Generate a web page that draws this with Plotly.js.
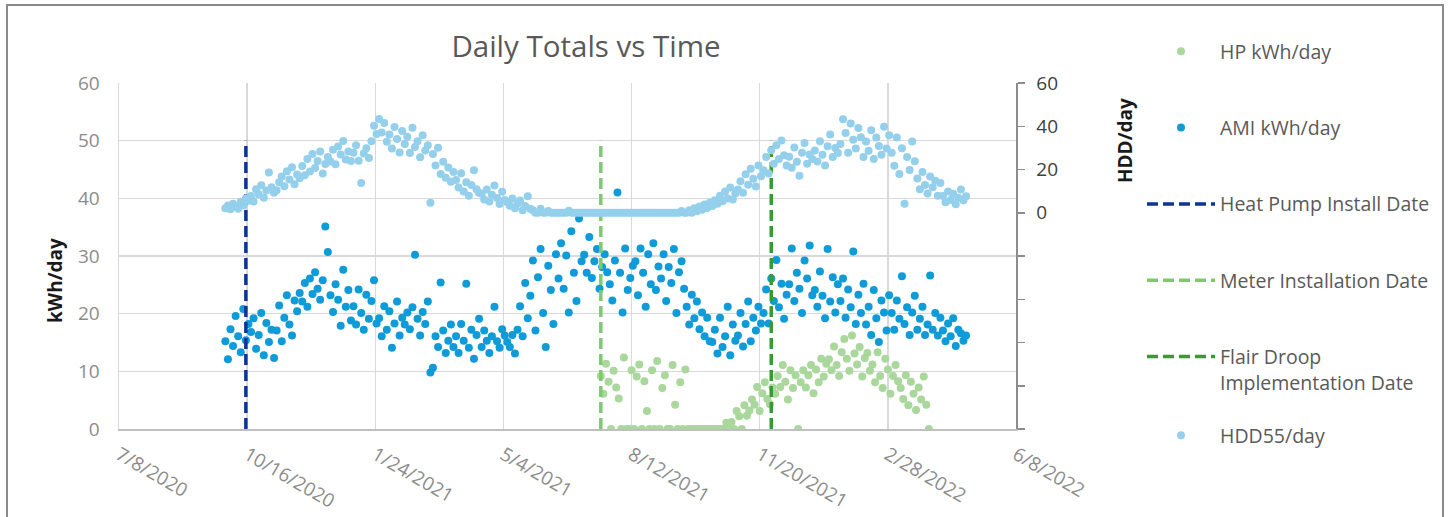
<!DOCTYPE html>
<html><head><meta charset="utf-8">
<script src="https://cdn.plot.ly/plotly-3.0.1.min.js"></script>
<style>
html,body{margin:0;padding:0;background:#fff;overflow:hidden}
#chart{width:1448px;height:517px;position:absolute;left:0;top:0}
#frame{position:absolute;left:6px;top:4px;width:1438px;height:540px;border:2px solid #8a8a8a;box-sizing:border-box;pointer-events:none}
</style></head><body>
<div id="chart"></div><div id="frame"></div>
<script>
// ---- data ----
const seriesStart = '2020-09-29';   // first daily sample (every 2nd day shown)
const hpStart = '2021-07-19';       // HP meter data start
const stepDays = 2;

const hddValues = [
 2.1,3.4,1.6,4.2,2.8,1.9,5.1,3.3,6.7,5.6,
 7.8,5.2,10.9,8.6,12.7,6.9,10.3,18.6,11.8,9.2,
 10.4,14.1,16.8,12.3,19.2,15.4,21.0,13.2,17.7,15.9,
 21.6,17.3,24.8,19.1,27.2,20.7,23.9,28.3,18.2,22.6,
 25.8,23.7,29.1,22.4,30.6,26.9,33.2,24.6,28.3,23.9,
 27.7,31.2,24.1,13.8,27.4,29.8,25.3,33.1,40.2,36.4,
 43.3,37.1,41.5,32.8,36.2,29.7,39.6,34.1,27.9,37.8,
 31.8,35.2,27.6,39.3,30.4,33.1,25.7,35.8,28.8,31.2,
 4.6,27.2,21.8,30.1,17.9,23.6,16.2,20.9,14.3,18.8,
 15.2,11.7,18.3,9.8,14.1,7.9,12.8,19.7,10.9,9.3,
 8.8,6.1,10.7,5.2,8.3,12.6,6.8,4.1,9.7,5.9,
 4.8,3.2,6.6,2.1,4.3,5.7,1.2,3.1,7.6,1.8,
 1.1,0,0,1.8,0,0,0.8,0,0,0,
 0,0,0,0,0.9,0,0,0,0,0,
 0,0,0,0,0,0,0,0,0,0,
 0,0,0,0,0,0,0,0,0,0,
 0,0,0,0,0,0,0,0,0,0,
 0,0,0,0,0,0,0,0,0.8,0,
 0,1.2,0,2.1,0.7,2.9,1.4,3.8,2.2,4.6,
 3.1,5.8,4.2,7.9,5.3,9.8,6.6,11.7,6.1,8.9,
 10.8,14.6,9.2,17.8,12.9,20.3,15.7,12.1,21.8,16.9,
 19.7,25.8,18.1,28.9,22.7,31.2,24.8,33.4,26.6,21.9,
 25.9,20.8,30.2,23.6,17.1,27.8,32.3,22.7,26.9,24.8,
 28.8,23.7,33.1,26.8,21.9,30.7,36.2,25.8,29.9,27.6,
 31.8,43.2,36.9,27.7,41.3,33.8,29.7,39.2,34.9,25.8,
 32.9,28.7,38.1,24.8,34.8,30.9,26.8,39.8,29.7,35.8,
 27.8,21.7,34.8,17.9,29.8,4.2,25.8,19.8,32.9,23.8,
 15.8,10.9,18.8,12.8,8.9,16.8,11.8,14.8,7.9,13.8,
 7.8,4.9,9.8,5.9,8.8,3.9,6.9,10.8,5.8,7.6
];

const amiValues = [
 15.2,12.1,17.3,14.4,19.6,16.1,13.3,20.8,15.4,18.2,
 16.8,19.2,13.9,16.3,20.1,12.8,18.4,15.1,17.2,12.3,
 17.1,21.4,15.2,19.3,23.2,18.1,16.2,22.3,20.4,23.6,
 22.1,25.3,21.2,26.1,23.4,27.2,24.3,22.4,25.8,35.1,
 30.7,23.2,20.3,25.1,22.4,17.9,27.6,21.2,24.1,18.8,
 21.3,18.1,24.2,20.1,17.2,23.3,19.1,22.2,25.8,18.3,
 19.2,16.1,21.3,17.2,20.4,14.1,18.3,22.1,16.2,19.3,
 18.1,20.2,17.3,21.1,30.2,19.1,16.2,20.3,18.2,22.1,
 9.8,10.6,16.1,14.2,25.4,17.1,13.2,15.3,18.1,14.2,
 16.1,13.2,18.2,15.3,25.2,14.1,17.2,12.2,16.3,19.1,
 14.2,17.1,15.3,13.2,16.1,21.2,15.2,14.1,17.3,16.2,
 15.1,14.2,16.3,13.1,17.2,21.3,16.1,25.3,19.2,23.1,
 29.2,17.1,26.3,31.2,20.1,14.2,28.3,24.1,18.2,30.3,
 26.1,32.2,24.3,30.1,20.2,34.3,27.1,22.2,36.5,29.1,
 30.2,27.1,33.3,26.2,29.1,31.2,24.3,28.1,30.3,27.2,
 25.1,22.3,29.2,41.0,27.1,20.2,31.3,24.1,26.2,28.3,
 29.1,23.2,31.3,27.1,21.2,30.3,25.1,32.2,24.1,28.2,
 26.1,30.3,22.2,28.1,25.3,31.2,20.1,27.2,29.1,24.3,
 21.2,18.1,23.3,19.2,22.1,17.3,20.2,16.1,19.3,15.2,
 15.1,17.2,13.1,19.3,14.2,16.1,21.2,12.8,18.1,15.3,
 16.2,20.1,14.3,18.2,22.1,15.2,19.3,17.1,21.2,18.3,
 20.1,24.2,18.3,26.1,22.2,29.3,21.1,25.2,19.1,23.3,
 25.1,31.3,22.2,27.1,24.3,20.1,29.2,26.1,31.8,23.2,
 24.1,21.2,27.3,23.1,19.2,31.2,22.1,26.3,20.2,25.1,
 22.2,26.1,19.3,24.2,21.1,30.8,18.2,23.3,20.1,25.2,
 18.1,21.2,16.3,24.1,19.2,15.1,22.3,20.2,17.1,23.2,
 20.1,17.2,22.3,19.1,26.5,18.2,21.1,16.3,20.2,23.1,
 17.2,19.1,21.2,16.3,18.1,26.6,17.2,20.1,16.2,19.3,
 17.1,15.2,18.3,16.1,19.2,14.4,17.2,16.6,15.3,16.2
];

const hpValues = [
 9.2,6.1,11.3,8.2,0,10.1,7.2,5.3,
 0,12.4,0,0,10.2,
 0,9.1,11.2,0,8.3,3.1,0,10.2,0,11.8,0,7.1,9.3,0,0,11.1,4.2,0,8.1,0,10.3,0,
 0,0,0,0,0,0,0,0,0,0,0,0,0,0,1.1,
 0,1.2,0,3.1,2.2,0,4.1,2.3,
 3.2,5.1,4.2,7.3,3.1,6.2,8.1,5.2,4.3,7.2,
 6.1,9.2,7.3,11.1,8.2,5.1,10.2,7.1,9.3,0,
 8.1,10.2,7.2,9.3,11.1,6.2,10.3,8.1,12.2,9.1,11.3,
 12.1,10.2,14.3,11.1,9.2,13.3,15.6,12.2,10.1,16.2,13.1,11.2,14.2,9.1,12.3,13.2,10.1,
 11.2,8.1,13.3,9.2,7.1,12.2,10.3,6.1,9.2,11.1,8.3,
 7.1,5.2,9.3,4.1,8.2,6.1,3.3,7.2,5.1,9.1,4.2,0
];

const eventNames = ['Heat Pump Install Date', 'Meter Installation Date', 'Flair Droop<br>Implementation Date'];
const eventDates = ['2020-10-15', '2021-07-19', '2021-11-29'];
const eventLineY = [0, 50];

const xTickStart = '2020-07-08';
const xRange = ['2020-07-08', '2022-06-08'];
const y2TickVals = [-100, -80, -60, -40, -20, 0, 20, 40, 60];
const y2TickText = ['', '', '', '', '', '0', '20', '40', '60'];

// ---- helpers ----
function dateSeq(start, n, step) {
  const t0 = Date.parse(start + 'T00:00:00Z');
  const out = [];
  for (let i = 0; i < n; i++) out.push(new Date(t0 + i * step * 864e5).toISOString().slice(0, 10));
  return out;
}
const seriesDates = dateSeq(seriesStart, amiValues.length, stepDays);
const hpDates = dateSeq(hpStart, hpValues.length, stepDays);

const FONT = 'Open Sans, Noto Sans, sans-serif';
const eventColors = ['#0b3694', '#7fca6d', '#3a9a32'];
const MS = 8;

const traces = [
  {x: hpDates, y: hpValues, type: 'scatter', mode: 'markers', name: 'HP kWh/day',
   marker: {color: '#a9d79c', size: MS}, legend: 'legend', legendgroup: 'g1'},
  {x: seriesDates, y: amiValues, type: 'scatter', mode: 'markers', name: 'AMI kWh/day',
   marker: {color: '#0f9bd7', size: MS}, legend: 'legend', legendgroup: 'g2'}
];
eventNames.forEach((nm, i) => {
  traces.push({x: [eventDates[i], eventDates[i]], y: eventLineY, type: 'scatter', mode: 'lines', name: nm,
    line: {color: eventColors[i], width: 3.5, dash: '11px,5px'}, legend: 'legend', legendgroup: 'g' + (3 + i)});
});
traces.push({x: seriesDates, y: hddValues, type: 'scatter', mode: 'markers', name: 'HDD55/day', yaxis: 'y2',
  marker: {color: '#94d0eb', size: MS}, legend: 'legend2', legendgroup: 'g6'});

const W = 1448, H = 517, L = 119, R = 1016, T = 83, B = 429;
const px2x = p => (p - L) / (R - L);
const px2y = p => (B - p) / (B - T);
const LEGX = 1142, LEGIW = 68;

const layout = {
  width: W, height: H,
  paper_bgcolor: 'rgba(0,0,0,0)', plot_bgcolor: '#fff',
  margin: {l: L, r: W - R, t: T, b: H - B, pad: 0},
  font: {family: FONT, color: '#595959'},
  title: {text: 'Daily Totals vs Time', xref: 'container', yref: 'container', x: 586 / W, y: 1 - 47 / H,
          xanchor: 'center', yanchor: 'middle', font: {size: 29.5, color: '#595959', family: FONT}},
  xaxis: {type: 'date', range: xRange, tick0: xTickStart, dtick: 100 * 864e5, tickformat: '%-m/%-d/%Y',
          tickangle: 30, showgrid: true, gridcolor: '#d9d9d9', gridwidth: 1.3, showline: true,
          linecolor: '#bfbfbf', linewidth: 1.5, ticks: '', zeroline: false, ticklabelstandoff: 6,
          tickfont: {size: 19, color: '#8c8c8c', family: FONT}},
  yaxis: {range: [0, 60], dtick: 10, showgrid: true, gridcolor: '#d9d9d9', gridwidth: 1.3, showline: true,
          linecolor: '#d9d9d9', linewidth: 1.5, ticks: '', zeroline: false, ticklabelstandoff: 14,
          tickfont: {size: 19, color: '#8c8c8c', family: FONT}},
  yaxis2: {overlaying: 'y', side: 'right', range: [-100, 60], tickmode: 'array', tickvals: y2TickVals,
           ticktext: y2TickText, showgrid: false, zeroline: false, showline: true, linecolor: '#8c8c8c',
           linewidth: 1.5, ticks: 'outside', ticklen: 7, tickwidth: 1.5, tickcolor: '#8c8c8c',
           ticklabelstandoff: 8, tickfont: {size: 19, color: '#404040', family: FONT}},
  legend: {xref: 'container', yref: 'container', x: LEGX / W, y: 1 - 32 / H, xanchor: 'left', yanchor: 'top',
           bgcolor: 'rgba(0,0,0,0)', font: {size: 19.5, color: '#595959', family: FONT},
           tracegroupgap: 48, valign: 'top', itemwidth: LEGIW, traceorder: 'grouped', maxheight: 480},
  legend2: {xref: 'container', yref: 'container', x: LEGX / W, y: 1 - 416 / H, xanchor: 'left', yanchor: 'top',
           bgcolor: 'rgba(0,0,0,0)', font: {size: 19.5, color: '#595959', family: FONT}, itemwidth: LEGIW},
  annotations: [
    {text: '<b>kWh/day</b>', xref: 'paper', yref: 'paper', x: px2x(55), y: px2y(281), textangle: -90,
     showarrow: false, xanchor: 'center', yanchor: 'middle', font: {size: 19, color: '#1a1a1a', family: FONT}},
    {text: '<b>HDD/day</b>', xref: 'paper', yref: 'paper', x: px2x(1125), y: px2y(141), textangle: -90,
     showarrow: false, xanchor: 'center', yanchor: 'middle', font: {size: 19, color: '#1a1a1a', family: FONT}}
  ],
  showlegend: true
};

Plotly.newPlot('chart', traces, layout, {displayModeBar: false, staticPlot: true});
</script>
</body></html>
